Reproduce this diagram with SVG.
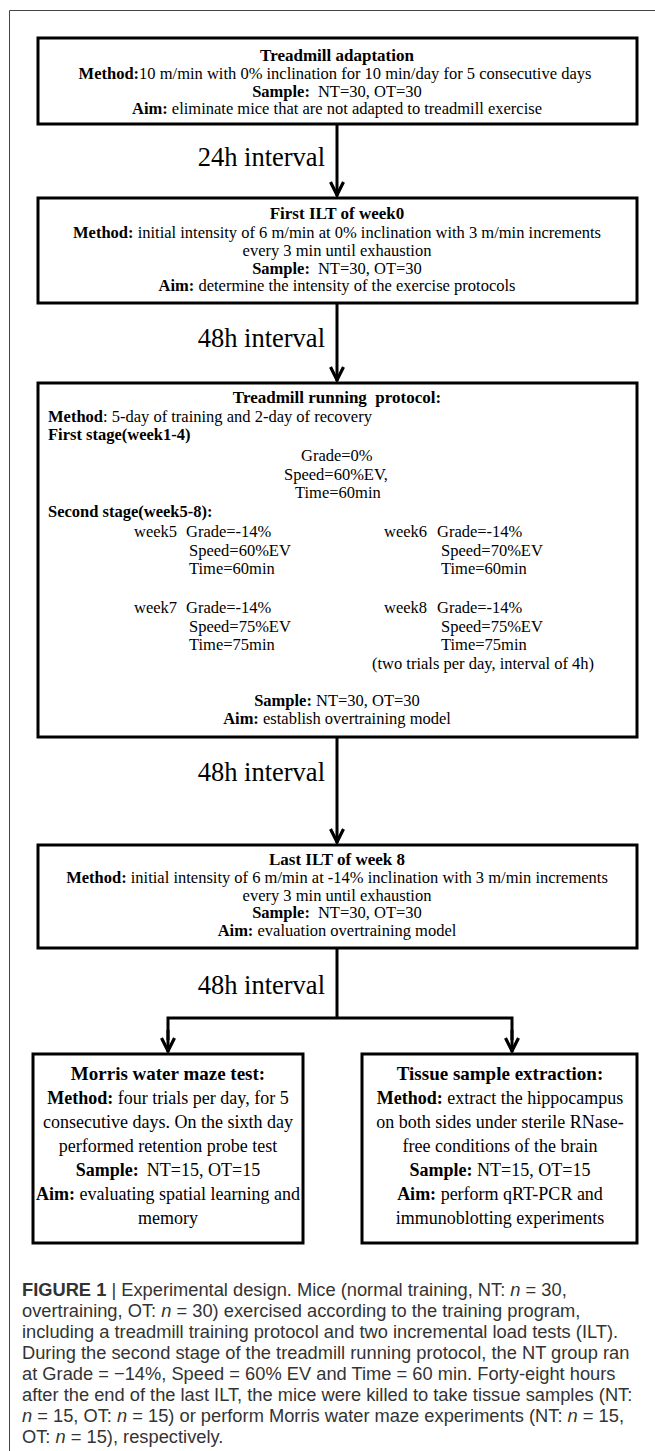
<svg xmlns="http://www.w3.org/2000/svg" width="655" height="1451" viewBox="0 0 655 1451">
<defs>
<style>
.box{fill:#fff;stroke:#000;stroke-width:3}
.t{font-family:"Liberation Serif","Times New Roman",serif;font-size:16.5px;fill:#000}
.tb{font-family:"Liberation Serif","Times New Roman",serif;font-size:17px;font-weight:bold;fill:#000}
.m{text-anchor:middle}
.b{font-weight:bold}
.big{font-family:"Liberation Serif","Times New Roman",serif;font-size:26.5px;fill:#000;text-anchor:end}
.bt{font-family:"Liberation Serif","Times New Roman",serif;font-size:18px;fill:#000;text-anchor:middle}
.btb{font-family:"Liberation Serif","Times New Roman",serif;font-size:19px;font-weight:bold;fill:#000;text-anchor:middle}
.cap{font-family:"Liberation Sans",Arial,sans-serif;font-size:18.3px;fill:#333}
.edge{fill:none;stroke:#000;stroke-width:3}
</style>
<marker id="ah" markerWidth="18" markerHeight="18" viewBox="-16 -9 18 18" refX="0" refY="0" orient="auto" markerUnits="userSpaceOnUse">
<path d="M-14,-6.5 L-1,0 L-14,6.5" fill="none" stroke="#000" stroke-width="3.2"/>
</marker>
</defs>
<rect width="655" height="1451" fill="#fff"/>
<path d="M655,10.5 H9.5 V1451" fill="none" stroke="#444" stroke-width="1"/>

<g id="connectors">
<line class="edge" x1="337" y1="124" x2="337" y2="196" marker-end="url(#ah)"/>
<text class="big" x="325" y="166">24h interval</text>
<line class="edge" x1="337" y1="303" x2="337" y2="381" marker-end="url(#ah)"/>
<text class="big" x="325" y="347">48h interval</text>
<line class="edge" x1="337" y1="737" x2="337" y2="843" marker-end="url(#ah)"/>
<text class="big" x="325" y="781">48h interval</text>
<line class="edge" x1="337" y1="948" x2="337" y2="1018"/>
<text class="big" x="325" y="994">48h interval</text>
<path class="edge" d="M168,1040 V1018 H512 V1040"/>
<line class="edge" x1="168" y1="1030" x2="168" y2="1052" marker-end="url(#ah)"/>
<line class="edge" x1="512" y1="1030" x2="512" y2="1052" marker-end="url(#ah)"/>
</g>

<g id="n1">
<rect class="box" x="38" y="38" width="599" height="86"/>
<text class="tb m" x="337" y="61">Treadmill adaptation</text>
<text class="t m" x="335" y="79"><tspan class="b">Method:</tspan>10 m/min with 0% inclination for 10 min/day for 5 consecutive days</text>
<text class="t m" x="337" y="97"><tspan class="b">Sample:</tspan><tspan dx="8">NT=30, OT=30</tspan></text>
<text class="t m" x="337" y="114"><tspan class="b">Aim:</tspan> eliminate mice that are not adapted to treadmill exercise</text>
</g>

<g id="n2">
<rect class="box" x="38" y="198" width="599" height="105"/>
<text class="tb m" x="337" y="219">First ILT of week0</text>
<text class="t m" x="337" y="238"><tspan class="b">Method:</tspan> initial intensity of 6 m/min at 0% inclination with 3 m/min increments</text>
<text class="t m" x="337" y="256">every 3 min until exhaustion</text>
<text class="t m" x="337" y="274"><tspan class="b">Sample:</tspan><tspan dx="8">NT=30, OT=30</tspan></text>
<text class="t m" x="337" y="291"><tspan class="b">Aim:</tspan> determine the intensity of the exercise protocols</text>
</g>

<g id="n3">
<rect class="box" x="38" y="383" width="599" height="354"/>
<text class="tb m" x="337" y="403" style="white-space:pre">Treadmill running  protocol:</text>
<text class="t" x="48" y="422"><tspan class="b">Method</tspan>: 5-day of training and 2-day of recovery</text>
<text class="t b" x="48" y="440">First stage(week1-4)</text>
<text class="t" x="301" y="461">Grade=0%</text>
<text class="t" x="284" y="480">Speed=60%EV,</text>
<text class="t" x="295" y="498">Time=60min</text>
<text class="t b" x="48" y="517">Second stage(week5-8):</text>
<text class="t" x="134" y="537">week5</text>
<text class="t" x="186" y="537">Grade=-14%</text>
<text class="t" x="189" y="556">Speed=60%EV</text>
<text class="t" x="189" y="574">Time=60min</text>
<text class="t" x="384" y="537">week6</text>
<text class="t" x="437" y="537">Grade=-14%</text>
<text class="t" x="441" y="556">Speed=70%EV</text>
<text class="t" x="441" y="574">Time=60min</text>
<text class="t" x="134" y="613">week7</text>
<text class="t" x="186" y="613">Grade=-14%</text>
<text class="t" x="189" y="632">Speed=75%EV</text>
<text class="t" x="189" y="650">Time=75min</text>
<text class="t" x="384" y="613">week8</text>
<text class="t" x="437" y="613">Grade=-14%</text>
<text class="t" x="441" y="632">Speed=75%EV</text>
<text class="t" x="441" y="650">Time=75min</text>
<text class="t" x="372" y="669">(two trials per day, interval of 4h)</text>
<text class="t m" x="337" y="706"><tspan class="b">Sample:</tspan> NT=30, OT=30</text>
<text class="t m" x="337" y="724"><tspan class="b">Aim:</tspan> establish overtraining model</text>
</g>

<g id="n4">
<rect class="box" x="38" y="845" width="599" height="103"/>
<text class="tb m" x="337" y="865">Last ILT of week 8</text>
<text class="t m" x="337" y="883"><tspan class="b">Method:</tspan> initial intensity of 6 m/min at -14% inclination with 3 m/min increments</text>
<text class="t m" x="337" y="901">every 3 min until exhaustion</text>
<text class="t m" x="337" y="918"><tspan class="b">Sample:</tspan><tspan dx="8">NT=30, OT=30</tspan></text>
<text class="t m" x="337" y="936"><tspan class="b">Aim:</tspan> evaluation overtraining model</text>
</g>

<g id="n5">
<rect class="box" x="33" y="1054" width="270" height="189"/>
<text class="btb" x="168" y="1080">Morris water maze test:</text>
<text class="bt" x="168" y="1104"><tspan class="b">Method:</tspan> four trials per day, for 5</text>
<text class="bt" x="168" y="1128">consecutive days. On the sixth day</text>
<text class="bt" x="168" y="1152">performed retention probe test</text>
<text class="bt" x="168" y="1176"><tspan class="b">Sample:</tspan><tspan dx="8">NT=15, OT=15</tspan></text>
<text class="bt" x="168" y="1200"><tspan class="b">Aim:</tspan> evaluating spatial learning and</text>
<text class="bt" x="168" y="1224">memory</text>
</g>

<g id="n6">
<rect class="box" x="362" y="1054" width="275" height="189"/>
<text class="btb" x="500" y="1080">Tissue sample extraction:</text>
<text class="bt" x="500" y="1104"><tspan class="b">Method:</tspan> extract the hippocampus</text>
<text class="bt" x="500" y="1128">on both sides under sterile RNase-</text>
<text class="bt" x="500" y="1152">free conditions of the brain</text>
<text class="bt" x="500" y="1176"><tspan class="b">Sample:</tspan> NT=15, OT=15</text>
<text class="bt" x="500" y="1200"><tspan class="b">Aim:</tspan> perform qRT-PCR and</text>
<text class="bt" x="500" y="1224">immunoblotting experiments</text>
</g>

<g id="caption" class="cap">
<text x="22" y="1296"><tspan font-weight="bold">FIGURE 1</tspan> | Experimental design. Mice (normal training, NT: <tspan font-style="italic">n</tspan> = 30,</text>
<text x="22" y="1317">overtraining, OT: <tspan font-style="italic">n</tspan> = 30) exercised according to the training program,</text>
<text x="22" y="1338">including a treadmill training protocol and two incremental load tests (ILT).</text>
<text x="22" y="1359">During the second stage of the treadmill running protocol, the NT group ran</text>
<text x="22" y="1380">at Grade = −14%, Speed = 60% EV and Time = 60 min. Forty-eight hours</text>
<text x="22" y="1401">after the end of the last ILT, the mice were killed to take tissue samples (NT:</text>
<text x="22" y="1422"><tspan font-style="italic">n</tspan> = 15, OT: <tspan font-style="italic">n</tspan> = 15) or perform Morris water maze experiments (NT: <tspan font-style="italic">n</tspan> = 15,</text>
<text x="22" y="1443">OT: <tspan font-style="italic">n</tspan> = 15), respectively.</text>
</g>
</svg>
